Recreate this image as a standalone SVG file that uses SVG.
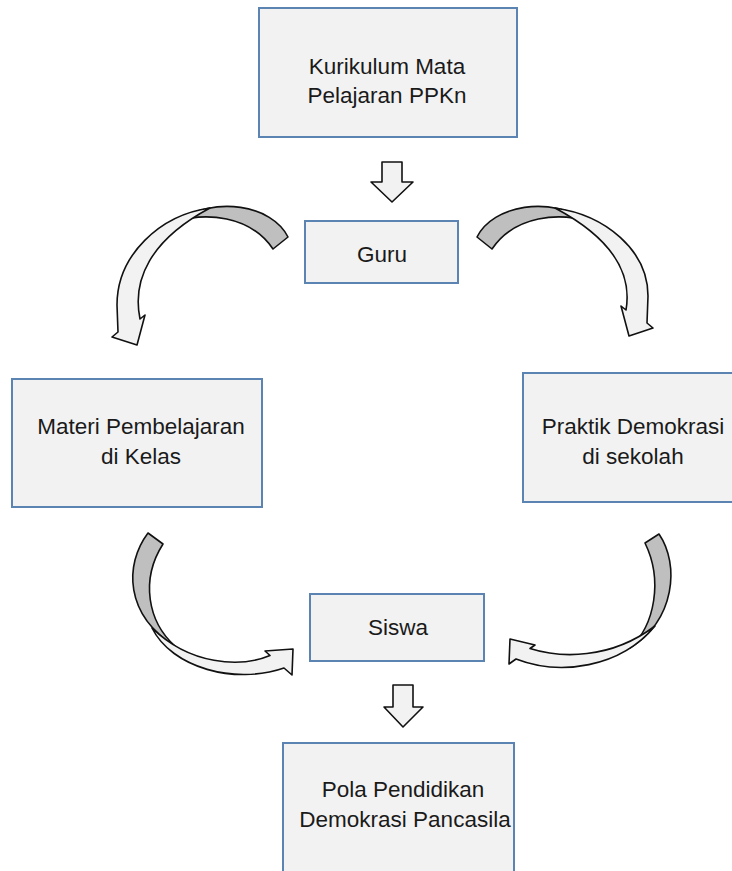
<svg xmlns="http://www.w3.org/2000/svg" width="732" height="871" viewBox="0 0 732 871">
<style>
.box{fill:#f2f2f2;stroke:#5b84b3;stroke-width:2}
.t{font-family:"Liberation Sans",Arial,sans-serif;font-size:22.5px;fill:#1a1a1a;text-anchor:middle}
.back{fill:#bfbfbf;stroke:#111;stroke-width:1.6;stroke-linejoin:round}
.front{fill:#f2f2f2;stroke:#111;stroke-width:1.6;stroke-linejoin:round}
</style>
<rect width="732" height="871" fill="#ffffff"/>
<g id="connectors">
  <path class="front" d="M382,162 H402 V182 H413 L392,202 L371,182 H382 Z"/>
  <path class="front" d="M393,685 H413 V707 H423 L403,727 L384,707 H393 Z"/>
  <g id="arrow-guru-materi">
    <path class="back" d="M288,237 C272,205 215,195 175,222 C205,212 250,215 273,249 Z"/>
    <path class="front" d="M210,208 C160,215 117,255 117,305 L118,332 L112,337 L137,345 L145,315 L140,319 C132,280 150,240 210,208 Z"/>
  </g>
  <g id="arrow-guru-praktik">
    <path class="back" d="M477,237 C493,205 550,195 590,222 C560,212 515,215 492,249 Z"/>
    <path class="front" d="M555,208 C605,215 648,250 648,296 L647,323 L653,328 L629,336 L621,306 L626,310 C632,275 615,240 555,208 Z"/>
  </g>
  <g id="arrow-materi-siswa">
    <path class="back" d="M148,533 C124,565 125,615 175,646 C148,622 140,580 163,544 Z"/>
    <path class="front" d="M152,628 C172,668 235,685 284,668 L292,675 L293,649 L265,651 L270,655.5 C240,668 190,665 152,628 Z"/>
  </g>
  <g id="arrow-praktik-siswa">
    <path class="back" d="M659,534 C680,565 675,620 630,648 C655,625 663,580 645,543 Z"/>
    <path class="front" d="M655,626 C620,668 560,676 516,659 L509,664 L510,639 L535,645 L530,648.5 C560,658 610,660 655,626 Z"/>
  </g>
</g>
<g id="kurikulum">
  <rect class="box" x="259" y="8" width="258" height="129"/>
  <text class="t" x="387" y="74">Kurikulum Mata</text>
  <text class="t" x="387" y="103">Pelajaran PPKn</text>
</g>
<g id="guru">
  <rect class="box" x="305" y="221" width="153" height="62"/>
  <text class="t" x="382" y="262">Guru</text>
</g>
<g id="materi">
  <rect class="box" x="12" y="379" width="250" height="128"/>
  <text class="t" x="141" y="434">Materi Pembelajaran</text>
  <text class="t" x="141" y="464">di Kelas</text>
</g>
<g id="praktik">
  <rect class="box" x="523" y="373" width="220" height="129"/>
  <text class="t" x="633" y="434">Praktik Demokrasi</text>
  <text class="t" x="633" y="464">di sekolah</text>
</g>
<g id="siswa">
  <rect class="box" x="310" y="594" width="174" height="67"/>
  <text class="t" x="398" y="635">Siswa</text>
</g>
<g id="pola">
  <rect class="box" x="283" y="743" width="231" height="140"/>
  <text class="t" x="403" y="797">Pola Pendidikan</text>
  <text class="t" x="405" y="827">Demokrasi Pancasila</text>
</g>
</svg>
